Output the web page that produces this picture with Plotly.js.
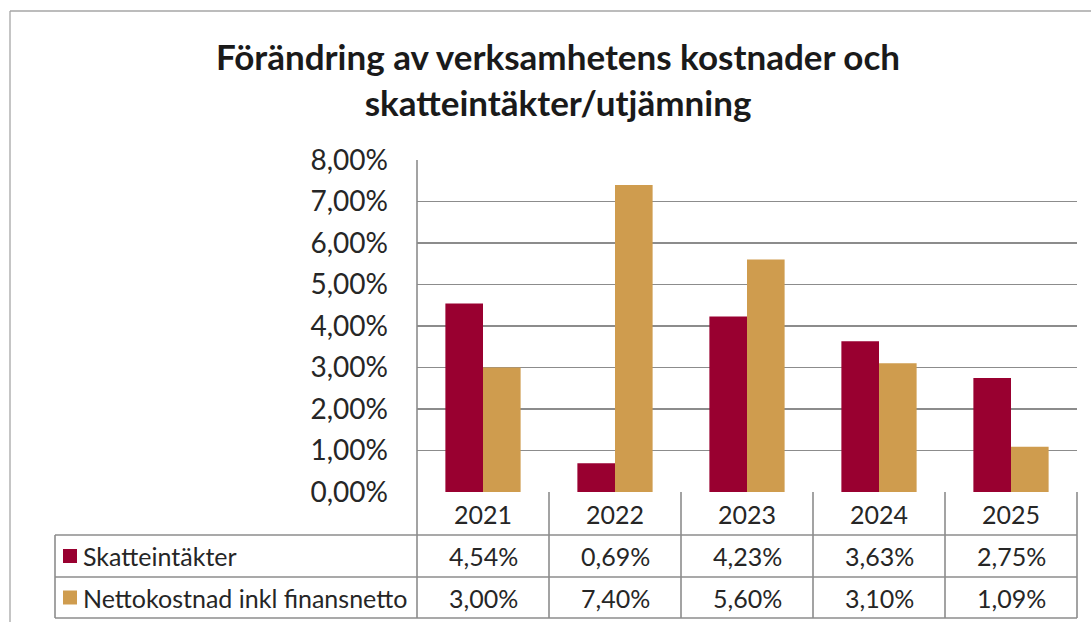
<!DOCTYPE html>
<html>
<head>
<meta charset="utf-8">
<script src="https://cdn.plot.ly/plotly-3.0.1.min.js"></script>
<style>html,body{margin:0;padding:0;background:#fff;overflow:hidden;}#chart{width:1091px;height:622px;}</style>
</head>
<body>
<div id="chart"></div>
<script>
// ---- Data ----
const years = ['2021', '2022', '2023', '2024', '2025'];
const seriesNames = ['Skatteintäkter', 'Nettokostnad inkl finansnetto'];
const skatteintakter = [4.54, 0.69, 4.23, 3.63, 2.75];
const nettokostnad = [3.00, 7.40, 5.60, 3.10, 1.09];
const yTickVals = [0, 1, 2, 3, 4, 5, 6, 7, 8];
const titleLines = ['Förändring av verksamhetens kostnader och', 'skatteintäkter/utjämning'];

// ---- Style ----
const colors = ['#990030', '#CF9C4E'];
const gridColor = '#8C8C8C';
const textColor = '#262626';
const font = 'Lato, "Liberation Sans", Arial, sans-serif';

const W = 1091, H = 622;
const mL = 417, mR = 14, mT = 160, mB = 130;
const plotW = W - mL - mR, plotH = H - mT - mB;
const px2x = p => (p - mL) / plotW;
const py2y = p => (H - mB - p) / plotH;

const fmt = v => v.toFixed(2).replace('.', ',') + '%';

const traces = [
  {type: 'bar', name: seriesNames[0], x: years, y: skatteintakter, marker: {color: colors[0]}, hoverinfo: 'x+y'},
  {type: 'bar', name: seriesNames[1], x: years, y: nettokostnad, marker: {color: colors[1]}, hoverinfo: 'x+y'}
];

// table geometry (pixels)
const rowLines = [535, 577, 618];
const headerCenter = 514, rowCenters = [556, 597.5];
const tableLeft = 55;
const lineStyle = {color: gridColor, width: 1.6};

const shapes = [];
// outer chart border (top and left edges visible in the frame)
const borderLine = {color: '#A6A6A6', width: 1.3};
shapes.push({type: 'line', xref: 'paper', yref: 'paper', x0: px2x(10), x1: px2x(W), y0: py2y(11), y1: py2y(11), line: borderLine});
shapes.push({type: 'line', xref: 'paper', yref: 'paper', x0: px2x(10), x1: px2x(10), y0: py2y(11), y1: py2y(H), line: borderLine});
// horizontal table lines
rowLines.forEach(p => shapes.push({type: 'line', xref: 'paper', yref: 'paper', x0: px2x(tableLeft), x1: 1, y0: py2y(p), y1: py2y(p), line: lineStyle}));
// left edge of series label column
shapes.push({type: 'line', xref: 'paper', yref: 'paper', x0: px2x(tableLeft), x1: px2x(tableLeft), y0: py2y(rowLines[0]), y1: py2y(rowLines[2]), line: lineStyle});
// vertical column dividers
for (let k = 0; k <= years.length; k++) {
  const xx = k / years.length;
  shapes.push({type: 'line', xref: 'paper', yref: 'paper', x0: xx, x1: xx, y0: k === 0 ? 1 : 0, y1: py2y(rowLines[2]), line: lineStyle});
}
// legend keys
const keyX = 63, keySize = 14;
rowCenters.forEach((c, i) => shapes.push({type: 'rect', xref: 'paper', yref: 'paper', x0: px2x(keyX), x1: px2x(keyX + keySize), y0: py2y(c - keySize / 2), y1: py2y(c + keySize / 2), fillcolor: colors[i], line: {width: 0}}));

const annotations = [];
const tblFont = {family: font, size: 25, color: textColor};
years.forEach((yr, i) => {
  annotations.push({xref: 'x', yref: 'paper', x: i, y: py2y(headerCenter), text: yr, showarrow: false, font: tblFont, xanchor: 'center', yanchor: 'middle'});
  annotations.push({xref: 'x', yref: 'paper', x: i, y: py2y(rowCenters[0]), text: fmt(skatteintakter[i]), showarrow: false, font: tblFont, xanchor: 'center', yanchor: 'middle'});
  annotations.push({xref: 'x', yref: 'paper', x: i, y: py2y(rowCenters[1]), text: fmt(nettokostnad[i]), showarrow: false, font: tblFont, xanchor: 'center', yanchor: 'middle'});
});
seriesNames.forEach((n, i) => {
  annotations.push({xref: 'paper', yref: 'paper', x: px2x(81), y: py2y(rowCenters[i]), text: n, showarrow: false, font: tblFont, xanchor: 'left', yanchor: 'middle'});
});

const layout = {
  width: W, height: H,
  margin: {l: mL, r: mR, t: mT, b: mB, pad: 0},
  paper_bgcolor: '#fff', plot_bgcolor: '#fff',
  title: {
    text: '<b>' + titleLines.join('<br>') + '</b>',
    font: {family: font, size: 35, color: '#1a1a1a'},
    xref: 'paper', x: px2x(558), xanchor: 'center',
    yref: 'container', y: 1 - 70 / H, yanchor: 'middle'
  },
  barmode: 'group', bargap: 0.43, bargroupgap: 0,
  showlegend: false,
  xaxis: {type: 'category', range: [-0.5, years.length - 0.5], autorange: false, showticklabels: false, ticks: '', showgrid: false, zeroline: false, showline: false, fixedrange: true},
  yaxis: {
    range: [0, 8], autorange: false, tickmode: 'array', tickvals: yTickVals, ticktext: yTickVals.map(fmt),
    showgrid: true, gridcolor: gridColor, gridwidth: 1.6, zeroline: false, showline: false,
    ticks: '', ticklabelstandoff: 28,
    tickfont: {family: font, size: 28, color: textColor}, fixedrange: true
  },
  shapes: shapes,
  annotations: annotations
};

Plotly.newPlot('chart', traces, layout, {displayModeBar: false, staticPlot: true});
</script>
</body>
</html>
